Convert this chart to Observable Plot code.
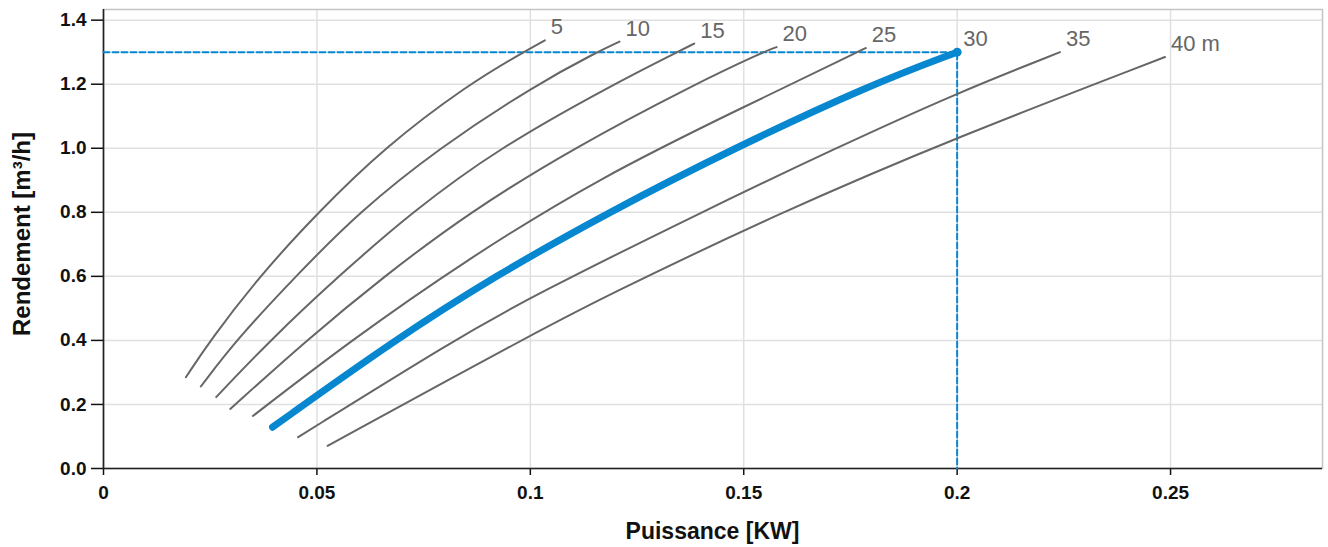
<!DOCTYPE html>
<html>
<head>
<meta charset="utf-8">
<script src="https://cdn.jsdelivr.net/npm/d3@7"></script>
<script src="https://cdn.jsdelivr.net/npm/@observablehq/plot@0.6"></script>
<style>
  html, body { margin: 0; padding: 0; background: #fff; }
  #chart { width: 1328px; height: 547px; }
</style>
</head>
<body>
<div id="chart"></div>
<script>
// Tick values
const xTicks = [0, 0.05, 0.1, 0.15, 0.2, 0.25];
const yTicks = [0, 0.2, 0.4, 0.6, 0.8, 1.0, 1.2, 1.4];
const xDomain = [0, 0.2856];
const yDomain = [0, 1.4333];

// Axis titles
const xTitle = "Puissance [KW]";
const yTitle = "Rendement [m³/h]";

// Heads (m) and their labels
const heads = [5, 10, 15, 20, 25, 30, 35, 40];
const headLabels = ["5", "10", "15", "20", "25", "30", "35", "40 m"];

// Power [KW] and yield [m³/h]
const p5  = [0.0193, 0.025, 0.0365, 0.0503, 0.0656, 0.0855, 0.0984, 0.1034];
const q5  = [0.285, 0.4, 0.6, 0.8, 1.0, 1.2, 1.3, 1.337];
const p10 = [0.0228, 0.031, 0.045, 0.0598, 0.0785, 0.1015, 0.1156, 0.1209];
const q10 = [0.256, 0.4, 0.6, 0.8, 1.0, 1.2, 1.3, 1.333];
const p15 = [0.0264, 0.039, 0.055, 0.0722, 0.0925, 0.1195, 0.1344, 0.1384];
const q15 = [0.223, 0.4, 0.6, 0.8, 1.0, 1.2, 1.3, 1.327];
const p20 = [0.0297, 0.0475, 0.0657, 0.0857, 0.11, 0.1385, 0.1545, 0.1577];
const q20 = [0.186, 0.4, 0.6, 0.8, 1.0, 1.2, 1.3, 1.316];
const p25 = [0.035, 0.058, 0.0848, 0.1164, 0.15, 0.1766, 0.1786];
const q25 = [0.164, 0.4, 0.65, 0.91, 1.129, 1.3, 1.313];
const p30 = [0.0396, 0.0681, 0.0916, 0.1183, 0.1477, 0.18, 0.2];
const q30 = [0.129, 0.4, 0.6, 0.8, 1.0, 1.2, 1.3];
const p35 = [0.0456, 0.082, 0.1, 0.14, 0.1715, 0.2, 0.2241];
const q35 = [0.098, 0.4, 0.535, 0.8, 1.0, 1.173, 1.3];
const p40 = [0.0525, 0.1, 0.1164, 0.1586, 0.2, 0.2487];
const q40 = [0.071, 0.4156, 0.53, 0.8, 1.035, 1.285];

// Operating point (highlighted)
const opHead = 30;
const opPower = 0.2;
const opYield = 1.3;

const powers = [p5, p10, p15, p20, p25, p30, p35, p40];
const yields = [q5, q10, q15, q20, q25, q30, q35, q40];

const rows = [];
heads.forEach((h, i) => {
  powers[i].forEach((p, j) => rows.push({h, p, q: yields[i][j]}));
});
const grayRows = rows.filter(d => d.h !== opHead);
const blueRows = rows.filter(d => d.h === opHead);
const ends = heads.map((h, i) => ({
  h, text: headLabels[i],
  p: powers[i][powers[i].length - 1],
  q: yields[i][yields[i].length - 1]
}));
const guide = [
  {p: 0, q: opYield},
  {p: opPower, q: opYield},
  {p: opPower, q: 0}
];

const BLUE = "#0787cf";
const FONT = "'Liberation Sans', Arial, sans-serif";

const chart = Plot.plot({
  width: 1328,
  height: 547,
  marginLeft: 103,
  marginRight: 6,
  marginTop: 9,
  marginBottom: 79,
  style: {fontFamily: FONT, background: "#fff", overflow: "visible"},
  x: {domain: xDomain, label: null},
  y: {domain: yDomain, label: null},
  marks: [
    Plot.gridX(xTicks, {stroke: "#e0e0e0", strokeOpacity: 1, strokeWidth: 1.5}),
    Plot.gridY(yTicks, {stroke: "#e0e0e0", strokeOpacity: 1, strokeWidth: 1.5}),
    Plot.frame({stroke: "#c4c4c4", strokeWidth: 1.5}),
    Plot.axisX(xTicks, {
      tickSize: 7, tickPadding: 10, tickFormat: d => String(d),
      fontSize: 19, fontWeight: "bold", fill: "#111", stroke: "#111", strokeWidth: 1.5, label: null
    }),
    Plot.axisY(yTicks, {
      tickSize: 12, tickPadding: 5, tickFormat: d3.format(".1f"),
      fontSize: 19, fontWeight: "bold", fill: "#111", stroke: "#111", strokeWidth: 1.5, label: null
    }),
    Plot.ruleX([0], {stroke: "#222", strokeWidth: 1.6}),
    Plot.ruleY([0], {stroke: "#222", strokeWidth: 1.6}),
    Plot.line(guide, {x: "p", y: "q", stroke: BLUE, strokeWidth: 2, strokeDasharray: "6,3"}),
    Plot.line(grayRows, {x: "p", y: "q", z: "h", stroke: "#666", strokeWidth: 2, curve: "basis"}),
    Plot.line(blueRows, {x: "p", y: "q", stroke: BLUE, strokeWidth: 7, strokeLinecap: "round", curve: "basis"}),
    Plot.dot([{p: opPower, q: opYield}], {x: "p", y: "q", r: 4.5, fill: BLUE, stroke: null}),
    Plot.text(ends, {
      x: "p", y: "q", text: "text", textAnchor: "start", dx: 6, dy: -13,
      fontSize: 22, fill: "#666", lineAnchor: "middle"
    })
  ]
});

const svg = d3.select(chart);
svg.selectAll('g[aria-label$="tick label"]')
  .attr("font-size", 19)
  .attr("font-weight", "bold")
  .attr("fill", "#111");

svg.append("text")
  .attr("x", 712.5).attr("y", 533)
  .attr("text-anchor", "middle")
  .attr("dominant-baseline", "middle")
  .attr("font-family", FONT)
  .attr("font-size", 23)
  .attr("font-weight", "bold")
  .attr("fill", "#111")
  .text(xTitle);

svg.append("text")
  .attr("transform", "translate(24,234) rotate(-90)")
  .attr("text-anchor", "middle")
  .attr("dominant-baseline", "middle")
  .attr("font-family", FONT)
  .attr("font-size", 24)
  .attr("font-weight", "bold")
  .attr("fill", "#111")
  .text(yTitle);

document.getElementById("chart").appendChild(chart);
</script>
</body>
</html>
